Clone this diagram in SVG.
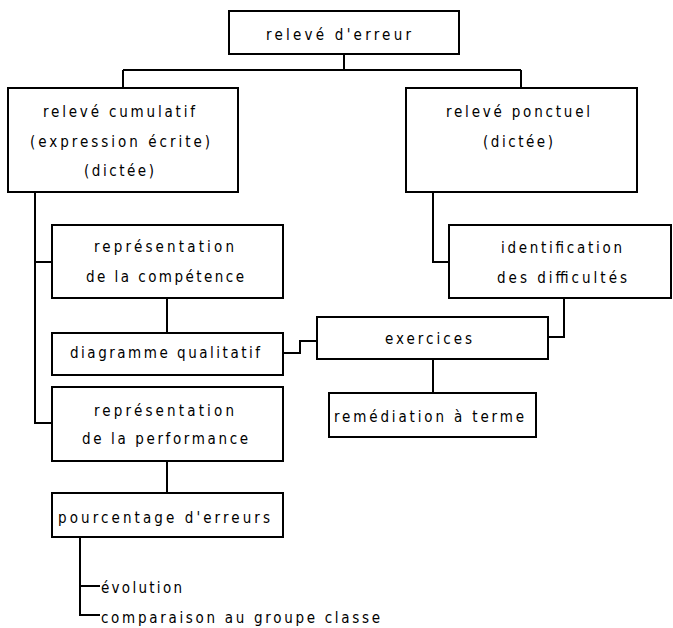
<svg xmlns="http://www.w3.org/2000/svg" width="673" height="628" viewBox="0 0 673 628">
<style>
rect{fill:#fff;stroke:#000;stroke-width:2}
#connectors path{fill:none;stroke:#000;stroke-width:2}
text{font-family:"DejaVu Sans Condensed","Liberation Sans Narrow","Liberation Sans",sans-serif;font-size:15px;fill:#000}
</style>
<rect x="0" y="0" width="673" height="628" style="stroke:none"/>
<g id="connectors">
<path d="M344 54V70M123 70H521M123 70V88M521 70V88"/>
<path d="M35 192V423H52M35 262H52"/>
<path d="M167 298V333"/>
<path d="M283 353H300V341H317"/>
<path d="M433 192V262H449"/>
<path d="M548 337H564V298"/>
<path d="M433 359V393"/>
<path d="M167 461V493"/>
<path d="M80 537V615H100M80 586H100"/>
</g>
<g id="n-releve">
<rect x="229" y="11" width="230" height="43"/>
<text x="266" y="40" textLength="145" lengthAdjust="spacing">relevé d'erreur</text>
</g>
<g id="n-cumulatif">
<rect x="8" y="88" width="230" height="104"/>
<text x="43" y="117" textLength="152" lengthAdjust="spacing">relevé cumulatif</text>
<text x="30" y="147" textLength="180" lengthAdjust="spacing">(expression écrite)</text>
<text x="84" y="176" textLength="70" lengthAdjust="spacing">(dictée)</text>
</g>
<g id="n-ponctuel">
<rect x="406" y="88" width="231" height="104"/>
<text x="446" y="117" textLength="144" lengthAdjust="spacing">relevé ponctuel</text>
<text x="483" y="147" textLength="70" lengthAdjust="spacing">(dictée)</text>
</g>
<g id="n-competence">
<rect x="52" y="225" width="231" height="73"/>
<text x="94" y="252" textLength="140" lengthAdjust="spacing">représentation</text>
<text x="86" y="282" textLength="158" lengthAdjust="spacing">de la compétence</text>
</g>
<g id="n-identification">
<rect x="449" y="225" width="222" height="73"/>
<text x="501" y="253" textLength="121" lengthAdjust="spacing">identification</text>
<text x="497" y="283" textLength="130" lengthAdjust="spacing">des difficultés</text>
</g>
<g id="n-diagramme">
<rect x="52" y="333" width="231" height="42"/>
<text x="70" y="358" textLength="190" lengthAdjust="spacing">diagramme qualitatif</text>
</g>
<g id="n-exercices">
<rect x="317" y="317" width="231" height="42"/>
<text x="385" y="344" textLength="87" lengthAdjust="spacing">exercices</text>
</g>
<g id="n-remediation">
<rect x="329" y="393" width="207" height="44"/>
<text x="334" y="422" textLength="190" lengthAdjust="spacing">remédiation à terme</text>
</g>
<g id="n-performance">
<rect x="52" y="387" width="231" height="74"/>
<text x="94" y="416" textLength="140" lengthAdjust="spacing">représentation</text>
<text x="82" y="444" textLength="166" lengthAdjust="spacing">de la performance</text>
</g>
<g id="n-pourcentage">
<rect x="52" y="493" width="231" height="44"/>
<text x="58" y="523" textLength="212" lengthAdjust="spacing">pourcentage d'erreurs</text>
</g>
<g id="n-evolution">
<text x="101" y="593" textLength="81" lengthAdjust="spacing">évolution</text>
</g>
<g id="n-comparaison">
<text x="101" y="623" textLength="279" lengthAdjust="spacing">comparaison au groupe classe</text>
</g>
</svg>
